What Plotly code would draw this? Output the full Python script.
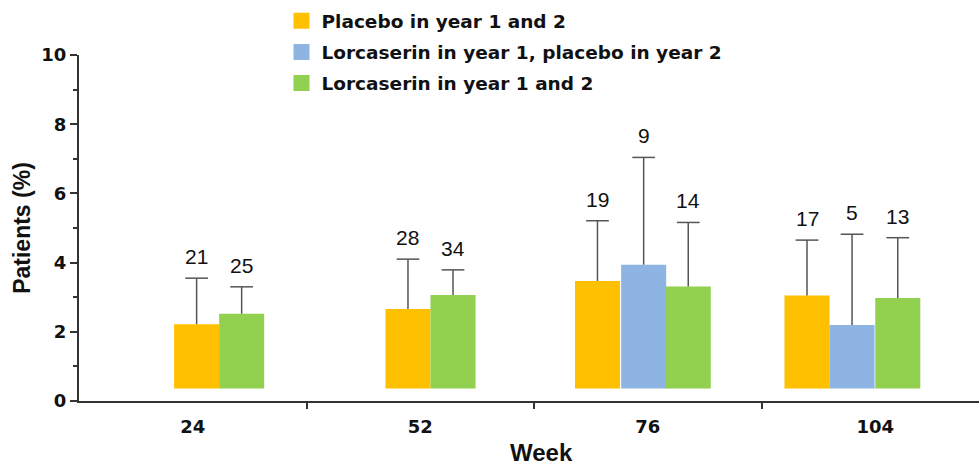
import plotly.graph_objects as go

weeks = ["24", "52", "76", "104"]
series_names = ["Placebo in year 1 and 2",
                "Lorcaserin in year 1, placebo in year 2",
                "Lorcaserin in year 1 and 2"]
placebo = [2.22, 2.66, 3.47, 3.05]
placebo_err = [1.33, 1.44, 1.74, 1.60]
placebo_n = [21, 28, 19, 17]
lorc_pla = [None, None, 3.94, 2.20]
lorc_pla_err = [None, None, 3.10, 2.62]
lorc_pla_n = [None, None, 9, 5]
lorc = [2.52, 3.06, 3.31, 2.98]
lorc_err = [0.78, 0.73, 1.85, 1.74]
lorc_n = [25, 34, 14, 13]

# layout (positions / styles)
colors = ["#FFC000", "#8DB4E2", "#92D050"]
BASE = 0.36
W = 0.198
offsets = [
    [-0.082, -0.153, -0.320, -0.399],
    [0.0, 0.0, -0.117, -0.201],
    [0.116, 0.045, 0.079, 0.0],
]
CAP = 0.05
BOLD_FONT = "DejaVu Sans"

values = [placebo, lorc_pla, lorc]
errors = [placebo_err, lorc_pla_err, lorc_err]
counts = [placebo_n, lorc_pla_n, lorc_n]
xs = list(range(len(weeks)))

fig = go.Figure()
annotations = []
for s in range(3):
    vals = values[s]
    fig.add_trace(go.Bar(
        x=xs, y=[None if v is None else v - BASE for v in vals], base=BASE,
        offset=offsets[s], width=W, marker=dict(color=colors[s], line=dict(width=0)),
        showlegend=False, hoverinfo="skip"))
    ex, ey = [], []
    for i, v in enumerate(vals):
        if v is None:
            continue
        cx = xs[i] + offsets[s][i] + W / 2
        top = v + errors[s][i]
        ex += [cx, cx, None, cx - CAP, cx + CAP, None]
        ey += [v, top, None, top, top, None]
        annotations.append(dict(x=cx, y=top, xref="x", yref="y", text=str(counts[s][i]),
                                showarrow=False, yanchor="bottom", yshift=8,
                                font=dict(family="Liberation Sans, Arial", size=21, color="#111")))
    fig.add_trace(go.Scatter(x=ex, y=ey, mode="lines", line=dict(color="#555", width=1.5),
                             showlegend=False, hoverinfo="skip"))

for s in range(3):
    fig.add_trace(go.Scatter(x=[None], y=[None], mode="markers", name=series_names[s],
                             legendgroup=f"g{s}",
                             marker=dict(symbol="square", size=16, color=colors[s])))

week_ann = dict(x=(541 - 79) / 900, y=-(452 - 401) / 346, xref="paper", yref="paper",
                text="<b>Week</b>", showarrow=False, yanchor="middle",
                font=dict(family="Liberation Sans, Arial", size=24, color="#111"))
annotations.append(week_ann)

fig.update_layout(
    width=979, height=465,
    margin=dict(l=79, r=0, t=55, b=64, autoexpand=False),
    plot_bgcolor="white", paper_bgcolor="white",
    barmode="overlay",
    showlegend=True,
    legend=dict(x=0.225, xanchor="left", y=0.995, yanchor="top", yref="container",
                font=dict(family=BOLD_FONT, size=18.5, color="#111", weight="bold"),
                traceorder="grouped", tracegroupgap=4, bgcolor="rgba(0,0,0,0)"),
    xaxis=dict(range=[-0.5, 3.456], tickvals=xs, ticktext=weeks, ticks="",
               minor=dict(tickvals=[0.5, 1.5, 2.5], ticks="outside", ticklen=6,
                          tickwidth=2, tickcolor="#333"),
               showline=True, linecolor="#333", linewidth=2, showgrid=False, zeroline=False,
               tickfont=dict(family=BOLD_FONT, size=18, color="#111", weight="bold"),
               ticklabelstandoff=8),
    yaxis=dict(range=[0, 10], dtick=2, ticks="outside", ticklen=7, tickwidth=2, tickcolor="#333",
               minor=dict(dtick=1, ticks="outside", ticklen=4, tickwidth=2, tickcolor="#333"),
               showline=True, linecolor="#333", linewidth=2, showgrid=False, zeroline=False,
               tickfont=dict(family=BOLD_FONT, size=18, color="#111", weight="bold"),
               title=dict(text="<b>Patients (%)</b>", standoff=4,
                          font=dict(family="Liberation Sans, Arial", size=23, color="#111"))),
    annotations=annotations,
)
fig.write_html("out.html", config={"displayModeBar": False},
               post_script="document.body.style.margin='0';")
